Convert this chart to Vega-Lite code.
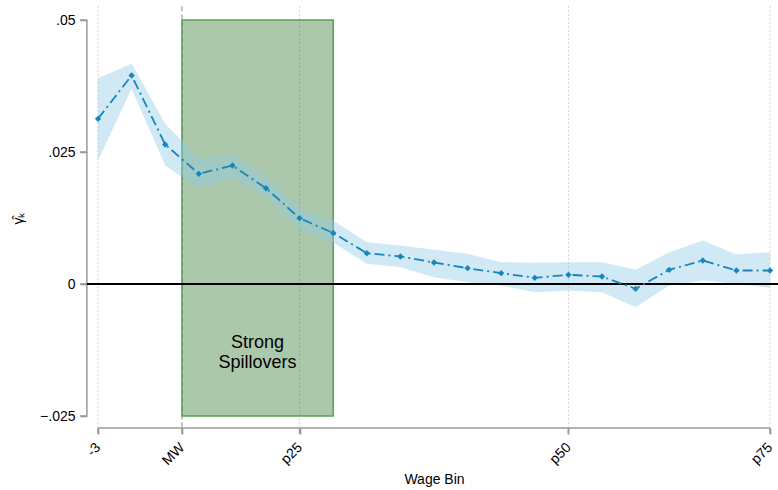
{
  "$schema": "https://vega.github.io/schema/vega-lite/v6.json",
  "width": 672,
  "height": 396,
  "autosize": "none",
  "padding": {"left": 98, "top": 20, "right": 8, "bottom": 74},
  "background": "white",
  "config": {
    "view": {"stroke": null},
    "font": "Liberation Sans",
    "axis": {
      "labelFont": "Liberation Sans", "labelFontSize": 14, "labelColor": "#000",
      "titleFont": "Liberation Sans", "titleFontSize": 14, "titleFontWeight": "normal", "titleColor": "#000",
      "grid": false
    }
  },
  "datasets": {
    "est": [
      {"bin": -3, "gamma": 0.03129, "lo": 0.02339, "hi": 0.03898},
      {"bin": -2, "gamma": 0.03949, "lo": 0.03697, "hi": 0.04171},
      {"bin": -1, "gamma": 0.02642, "lo": 0.02244, "hi": 0.03034},
      {"bin": 0, "gamma": 0.02087, "lo": 0.01803, "hi": 0.02371},
      {"bin": 1, "gamma": 0.02244, "lo": 0.01992, "hi": 0.02477},
      {"bin": 2, "gamma": 0.01814, "lo": 0.01644, "hi": 0.02036},
      {"bin": 3, "gamma": 0.01246, "lo": 0.01027, "hi": 0.01455},
      {"bin": 4, "gamma": 0.00966, "lo": 0.00786, "hi": 0.01203},
      {"bin": 5, "gamma": 0.00583, "lo": 0.00383, "hi": 0.00792},
      {"bin": 6, "gamma": 0.00521, "lo": 0.00318, "hi": 0.00729},
      {"bin": 7, "gamma": 0.00407, "lo": 0.00129, "hi": 0.00648},
      {"bin": 8, "gamma": 0.00299, "lo": 0.00034, "hi": 0.00572},
      {"bin": 9, "gamma": 0.00205, "lo": -0.00028, "hi": 0.00413},
      {"bin": 10, "gamma": 0.00117, "lo": -0.00155, "hi": 0.00402},
      {"bin": 11, "gamma": 0.00174, "lo": -0.00123, "hi": 0.00413},
      {"bin": 12, "gamma": 0.00142, "lo": -0.00155, "hi": 0.00413},
      {"bin": 13, "gamma": -0.00091, "lo": -0.00439, "hi": 0.00269},
      {"bin": 14, "gamma": 0.00269, "lo": -0.00028, "hi": 0.00602},
      {"bin": 15, "gamma": 0.00445, "lo": 0.00066, "hi": 0.00824},
      {"bin": 16, "gamma": 0.00256, "lo": 0.00004, "hi": 0.00559},
      {"bin": 17, "gamma": 0.00256, "lo": -0.00072, "hi": 0.00602}
    ],
    "grid": [{"bin": -3, "top": 0.0526, "bottom": -0.0271}, {"bin": 3, "top": 0.0526, "bottom": -0.0271}, {"bin": 11, "top": 0.0526, "bottom": -0.0271}, {"bin": 17, "top": 0.0526, "bottom": -0.0271}],
    "frame": [
      {"x1": -3.33, "x2": -3.33, "y1": 0.05, "y2": -0.025},
      {"x1": -3, "x2": 17, "y1": -0.02727, "y2": -0.02727},
      {"x1": -3.54, "x2": -3.33, "y1": 0.05, "y2": 0.05},
      {"x1": -3.54, "x2": -3.33, "y1": 0.025, "y2": 0.025},
      {"x1": -3.54, "x2": -3.33, "y1": 0, "y2": 0},
      {"x1": -3.54, "x2": -3.33, "y1": -0.025, "y2": -0.025},
      {"x1": -3, "x2": -3, "y1": -0.02727, "y2": -0.02841},
      {"x1": -0.5, "x2": -0.5, "y1": -0.02727, "y2": -0.02841},
      {"x1": 3, "x2": 3, "y1": -0.02727, "y2": -0.02841},
      {"x1": 11, "x2": 11, "y1": -0.02727, "y2": -0.02841},
      {"x1": 17, "x2": 17, "y1": -0.02727, "y2": -0.02841}
    ],
    "region": [{"start": -0.5, "end": 4, "top": 0.05, "bottom": -0.025, "ltop": 0.0526, "lbottom": -0.0271, "label": "Strong\nSpillovers", "mid": 1.75, "labely": -0.0111}]
  },
  "layer": [
    {
      "data": {"name": "est"},
      "mark": {"type": "point", "opacity": 0},
      "encoding": {
        "x": {"field": "bin", "type": "quantitative", "scale": {"domain": [-3, 17], "nice": false, "zero": false},
          "axis": {
            "domain": false, "ticks": true,
            "tickColor": "#8c8c8c", "tickWidth": 1.5, "tickSize": 6,
            "values": [-3, -0.5, 3, 11, 17],
            "labelExpr": "datum.value == -3 ? '-3' : datum.value == -0.5 ? 'MW' : datum.value == 3 ? 'p25' : datum.value == 11 ? 'p50' : 'p75'",
            "labelAngle": -45, "labelAlign": "right", "labelBaseline": "middle", "labelPadding": 11,
            "offset": 12, "title": "Wage Bin", "titlePadding": 5
          }},
        "y": {"field": "gamma", "type": "quantitative", "scale": {"domain": [-0.025, 0.05], "nice": false, "zero": false},
          "axis": {
            "domain": false, "ticks": true,
            "tickColor": "#8c8c8c", "tickWidth": 1.5, "tickSize": 7,
            "values": [-0.025, 0, 0.025, 0.05],
            "labelExpr": "datum.value == 0 ? '0' : replace(format(datum.value, '.3~f'), '0.', '.')",
            "offset": 11, "labelPadding": 5, "title": "γ̂ₖ", "titlePadding": 14
          }}
      }
    },
    {
      "data": {"name": "frame"},
      "mark": {"type": "rule", "color": "#9a9a9a", "strokeWidth": 1.5},
      "encoding": {
        "x": {"field": "x1", "type": "quantitative"},
        "x2": {"field": "x2"},
        "y": {"field": "y1", "type": "quantitative"},
        "y2": {"field": "y2"}
      }
    },
    {
      "data": {"name": "grid"},
      "mark": {"type": "rule", "color": "#cfcfcf", "strokeWidth": 1, "strokeDash": [2, 2]},
      "encoding": {
        "x": {"field": "bin", "type": "quantitative"},
        "y": {"field": "top", "type": "quantitative"},
        "y2": {"field": "bottom"}
      }
    },
    {
      "data": {"name": "region"},
      "mark": {"type": "rule", "color": "#9a9a9a", "strokeWidth": 1.2, "strokeDash": [5, 3]},
      "encoding": {
        "x": {"field": "start", "type": "quantitative"},
        "y": {"field": "ltop", "type": "quantitative"},
        "y2": {"field": "lbottom"}
      }
    },
    {
      "data": {"name": "region"},
      "mark": {"type": "rect", "fill": "#3a7d34", "fillOpacity": 0.42, "stroke": "#5a9f55", "strokeWidth": 1.5},
      "encoding": {
        "x": {"field": "start", "type": "quantitative"},
        "x2": {"field": "end"},
        "y": {"field": "top", "type": "quantitative"},
        "y2": {"field": "bottom"}
      }
    },
    {
      "data": {"name": "est"},
      "mark": {"type": "area", "color": "#8ecae6", "opacity": 0.42},
      "encoding": {
        "x": {"field": "bin", "type": "quantitative"},
        "y": {"field": "lo", "type": "quantitative"},
        "y2": {"field": "hi"}
      }
    },
    {
      "data": {"values": [{"v": 0, "a": -3.33, "b": 17.25}]},
      "mark": {"type": "rule", "color": "#000", "strokeWidth": 2},
      "encoding": {
        "y": {"field": "v", "type": "quantitative"},
        "x": {"field": "a", "type": "quantitative"},
        "x2": {"field": "b"}
      }
    },
    {
      "data": {"name": "est"},
      "mark": {"type": "line", "color": "#1686bb", "strokeWidth": 1.8, "strokeDash": [10, 4, 2, 4]},
      "encoding": {
        "x": {"field": "bin", "type": "quantitative"},
        "y": {"field": "gamma", "type": "quantitative"}
      }
    },
    {
      "data": {"name": "est"},
      "mark": {"type": "point", "shape": "diamond", "filled": true, "color": "#1686bb", "size": 40, "opacity": 1},
      "encoding": {
        "x": {"field": "bin", "type": "quantitative"},
        "y": {"field": "gamma", "type": "quantitative"}
      }
    },
    {
      "data": {"name": "region"},
      "mark": {"type": "text", "fontSize": 18, "lineBreak": "\n", "lineHeight": 20, "align": "center", "baseline": "middle", "color": "#000", "font": "Liberation Sans"},
      "encoding": {
        "x": {"field": "mid", "type": "quantitative"},
        "y": {"field": "labely", "type": "quantitative"},
        "text": {"field": "label"}
      }
    }
  ]
}
